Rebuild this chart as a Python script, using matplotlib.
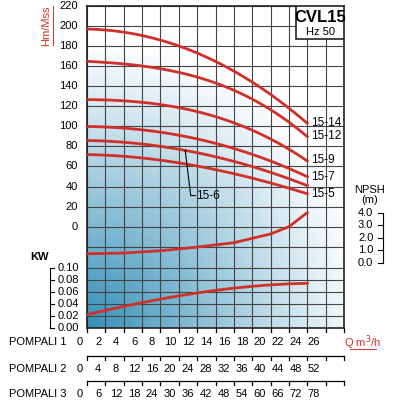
import numpy as np
import matplotlib
matplotlib.use("Agg")
import matplotlib.pyplot as plt

plt.rcParams['font.family'] = ['Liberation Sans', 'DejaVu Sans']
RED = "#d0302a"
q_head = [0, 4, 8, 12, 16, 20, 24]
curves = {
    "15-14": [197, 194, 186, 173, 155, 132, 103],
    "15-12": [165, 162, 157, 150, 136, 116, 90],
    "15-9":  [127, 125, 121, 116, 104, 86, 66],
    "15-7":  [100, 98, 94, 88, 78, 65, 50],
    "15-6":  [86, 84, 80, 74, 65, 54, 41],
    "15-5":  [72, 70, 66, 61, 53, 43, 33],
}
q_npsh = [0, 4, 8, 12, 16, 20, 22, 24]
npsh = [0.72, 0.78, 0.96, 1.25, 1.6, 2.3, 2.88, 4.0]
q_kw = [0, 4, 8, 12, 16, 20, 24]
kw = [0.022, 0.036, 0.048, 0.058, 0.066, 0.072, 0.074]
pompali1 = list(range(0, 27, 2))
pompali2 = [0, 4, 8, 12, 16, 20, 24, 28, 32, 36, 40, 44, 48, 52]
pompali3 = [0, 6, 12, 18, 24, 30, 36, 42, 48, 54, 60, 66, 72, 78]
head_ticks = list(range(0, 221, 20))
kw_ticks = [0.0, 0.02, 0.04, 0.06, 0.08, 0.10]
npsh_ticks = [0.0, 1.0, 2.0, 3.0, 4.0]

kw2h = lambda v: -101 + np.asarray(v) * 600
np2h = lambda v: -36 + np.asarray(v) * 12.5

fig = plt.figure(figsize=(4, 4), dpi=100)
ax = fig.add_axes([0.2175, 0.18, 0.6425, 0.805])
ax.set_xlim(0, 28)
ax.set_ylim(-101, 220)
X, Y = np.meshgrid(np.linspace(0, 1, 300), np.linspace(0, 1, 300))  # Y from bottom
r = np.sqrt((X / 1.1) ** 2 + (Y / 0.9) ** 2)
t = np.clip(1 - r, 0, 1) ** 1.1
c0 = np.array([1, 1, 1]); c1 = np.array([0.2, 0.56, 0.72])
img = c0 + (c1 - c0) * t[..., None]
ax.imshow(img, extent=[0, 28, -101, 220], origin="lower", aspect="auto", zorder=0)

for x in range(0, 29, 2):
    ax.axvline(x, color="#444", lw=0.8, zorder=1)
for h in head_ticks + [-20]:
    ax.axhline(h, color="#444", lw=0.8, zorder=1)
for k in kw_ticks[1:]:
    ax.axhline(kw2h(k), color="#444", lw=0.8, zorder=1)

ends = {}
for name, vals in curves.items():
    qq = np.linspace(0, 24, 100)
    p = np.polyfit(q_head, vals, 3)
    ax.plot(qq, np.polyval(p, qq), color=RED, lw=2, zorder=3)
    ends[name] = vals[-1]
for name in ["15-14", "15-12", "15-9", "15-7", "15-5"]:
    ax.text(24.4, ends[name], name, fontsize=8.5, va="center", zorder=4)
ax.plot([10.7, 11.3, 11.8], [76, 31, 31], color="black", lw=0.8, zorder=4)
ax.text(11.9, 31, "15-6", fontsize=8.5, va="center", zorder=4)

qq = np.linspace(0, 24, 100)
ax.plot(qq, np.interp(qq, q_npsh, np2h(npsh)), color=RED, lw=2, zorder=3)
pk = np.polyfit(q_kw, kw2h(kw), 3)
ax.plot(qq, np.polyval(pk, qq), color=RED, lw=2, zorder=3)

ax.set_xticks([]); ax.set_yticks([])
for s in ax.spines.values():
    s.set_color("#222"); s.set_linewidth(1.2)

ax.add_patch(plt.Rectangle((22.8, 187), 5.2, 33, facecolor="white", edgecolor="#222", lw=1.2, zorder=4))
ax.text(25.4, 209, "CVL15", fontsize=12, fontweight="bold", ha="center", va="center", zorder=5)
ax.text(25.4, 194, "Hz 50", fontsize=8, ha="center", va="center", zorder=5)

kwT = dict(clip_on=False, fontsize=8)
for h in head_ticks:
    ax.text(-1.0, h, str(h), ha="right", va="center", **kwT)
ax.text(-4.4, 200, "Hm/Mss", rotation=90, color=RED, ha="center", va="center", fontsize=8)
ax.plot([-3.7, -3.7], [181, 220], color=RED, lw=0.7, clip_on=False)
for k in kw_ticks:
    ax.text(-0.9, kw2h(k), f"{k:.2f}", ha="right", va="center", **kwT)
    ax.plot([-4.0, -3.6], [kw2h(k)] * 2, color="black", lw=0.8, clip_on=False)
ax.plot([-4.0, -4.0], [kw2h(0), kw2h(0.1)], color="black", lw=0.8, clip_on=False)
ax.text(-5.2, kw2h(0.118), "KW", fontsize=8, fontweight="bold", ha="center", va="center", clip_on=False)
for n in npsh_ticks:
    ax.text(31.2, np2h(n), f"{n:.1f}", ha="right", va="center", **kwT)
    ax.plot([31.7, 32.2], [np2h(n)] * 2, color="black", lw=0.8, clip_on=False)
ax.plot([32.2, 32.2], [np2h(0), np2h(4)], color="black", lw=0.8, clip_on=False)
ax.text(30.8, 32, "NPSH\n(m)", fontsize=8, ha="center", va="center", linespacing=1.0, clip_on=False)

rows = [(pompali1, -114.5, None), (pompali2, -141.7, -128.6), (pompali3, -166.9, -153.8)]
for i, (vals, ylab, yline) in enumerate(rows):
    ax.text(-2.2, ylab, f"POMPALI {i+1}", ha="right", va="center", clip_on=False, fontsize=8)
    for j, v in enumerate(vals):
        ax.text(-0.75 + j * 1.96, ylab, str(v), ha="center", va="center", clip_on=False, fontsize=8)
    ty = -101 if yline is None else yline
    if yline is not None:
        ax.plot([0, 28], [yline, yline], color="black", lw=0.9, clip_on=False)
    for x in range(0, 29, 2):
        ax.plot([x, x], [ty, ty - 4], color="black", lw=0.9, clip_on=False)
ax.text(30.0, -116, "Q m$^3$/h", color=RED, ha="center", va="center", clip_on=False, fontsize=8)
ax.plot([28.6, 31.5], [-122, -122], color=RED, lw=0.7, clip_on=False)

fig.savefig("out.png", dpi=100)
